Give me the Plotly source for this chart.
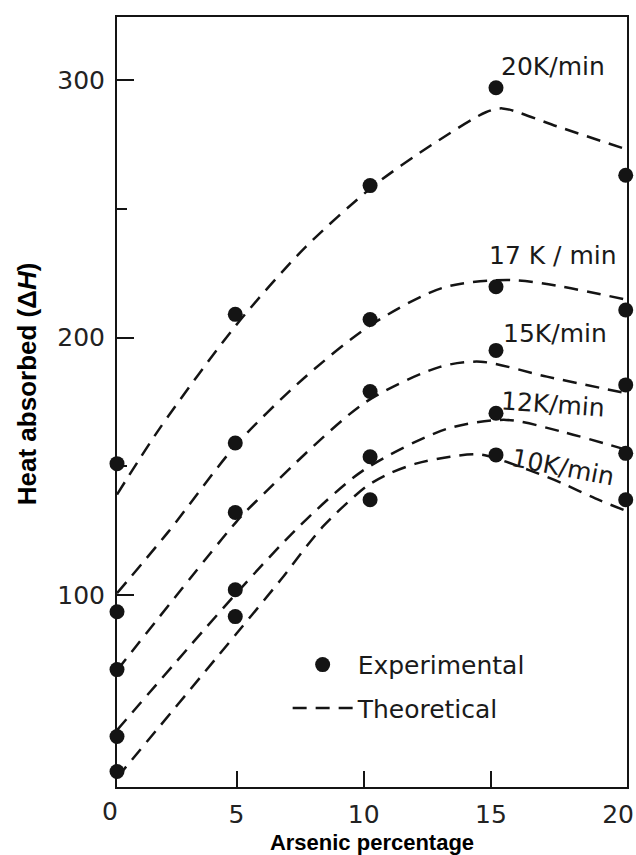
import plotly.graph_objects as go

# ---------------- data ----------------
x_exp = [0.3, 4.95, 10.25, 15.2, 20.3]          # arsenic percentage of the measured samples
exp_20 = [151, 209, 259, 297, 263]
exp_17 = [93.5, 159, 207, 219.7, 210.7]
exp_15 = [71, 132, 179, 195, 181.6]
exp_12 = [45, 102, 153.7, 170.6, 155]
exp_10 = [31.4, 91.6, 137, 154.4, 137]

th20_x = [0.3, 2.0, 5.0, 7.7, 10.4, 12.7, 14.8, 15.45, 17.6, 20.35]
th20_y = [139, 165, 205, 235, 259, 275, 287.5, 289, 282, 273]
th17_x = [0.3, 2.3, 5.0, 7.6, 10.3, 13.1, 15.9, 20.35]
th17_y = [100.7, 124.3, 158.5, 183.8, 205, 219.3, 222.3, 214.6]
th15_x = [0.3, 5.0, 5.75, 10.0, 13.0, 14.6, 17.2, 20.35]
th15_y = [70.7, 128.5, 136.2, 174.4, 188.6, 190.6, 184.8, 178.3]
th12_x = [0.3, 5.0, 7.5, 10.0, 13.26, 15.6, 17.8, 20.35]
th12_y = [47.5, 100.7, 127, 148.5, 164.5, 168, 163.4, 156.3]
th10_x = [0.3, 5.0, 6.73, 8.4, 10.1, 11.04, 12.09, 13.4, 14.6, 16.5, 17.8, 19.1, 20.35]
th10_y = [29, 85, 105.8, 126.6, 142.1, 147.3, 151.1, 153.7, 154.5, 148.5, 143.4, 137.5, 132.5]

series_labels = ["20K/min", "17 K / min", "15K/min", "12K/min", "10K/min"]
x_ticks = [5, 10, 15, 20]
y_ticks = [100, 200, 300]

# label placement (style, not data)
label_pos = [(17.44, 305.4, 0), (17.45, 232.0, 0), (17.5, 201.7, 0),
             (17.45, 173.8, 4), (17.85, 149.5, 11)]

INK = "#141414"
TICK_FONT = dict(family="DejaVu Sans", size=25, color="#222222")
LBL_FONT = dict(family="DejaVu Sans", size=25, color="#1a1a1a")
TITLE_FONT = dict(family="Liberation Sans, Arial", size=22, color="#000000")

fig = go.Figure()

exp_sets = [exp_20, exp_17, exp_15, exp_12, exp_10]
th_sets = [(th20_x, th20_y), (th17_x, th17_y), (th15_x, th15_y),
           (th12_x, th12_y), (th10_x, th10_y)]

for i, (tx, ty) in enumerate(th_sets):
    fig.add_trace(go.Scatter(
        x=tx, y=ty, mode="lines", name="Theoretical",
        legendgroup="theo", legendrank=2, showlegend=(i == 0),
        line=dict(color=INK, width=2.5, dash="14px,9px", shape="spline", smoothing=0.8),
        cliponaxis=False, hoverinfo="skip"))

for i, ys in enumerate(exp_sets):
    fig.add_trace(go.Scatter(
        x=x_exp, y=ys, mode="markers", name="Experimental",
        legendgroup="exp", legendrank=1, showlegend=(i == 0),
        marker=dict(color=INK, size=15, line=dict(width=0)),
        cliponaxis=False))

for text, (lx, ly, ang) in zip(series_labels, label_pos):
    fig.add_annotation(x=lx, y=ly, xref="x", yref="y", text=text, showarrow=False,
                       textangle=ang, font=LBL_FONT, xanchor="center", yanchor="middle")

# "0" label of the x axis (origin lies just left of the axis line)
fig.add_annotation(x=-0.0137, y=0, xref="paper", yref="paper", text="0", showarrow=False,
                   font=TICK_FONT, xanchor="center", yanchor="middle", yshift=-24)

# y-axis title
fig.add_annotation(x=-0.176, y=0.5234, xref="paper", yref="paper",
                   text="<b>Heat absorbed (Δ<i>H</i>)</b>", showarrow=False,
                   textangle=-90, font=dict(family="Liberation Sans, Arial", size=26, color="#000"),
                   xanchor="center", yanchor="middle")

fig.update_xaxes(
    range=[0.3, 20.35], tickvals=x_ticks, ticktext=[str(v) for v in x_ticks],
    ticks="", showgrid=False, zeroline=False, automargin=False,
    showline=True, linecolor=INK, linewidth=2, mirror=True,
    tickfont=TICK_FONT, ticklabelstandoff=4,
    minor=dict(tickvals=[5, 10, 15], ticks="inside", ticklen=16, tickwidth=2, tickcolor=INK),
    title=dict(text="<b>Arsenic percentage</b>", font=TITLE_FONT, standoff=10))

fig.update_yaxes(
    range=[25.4, 324.5], tickvals=y_ticks, ticktext=[str(v) for v in y_ticks],
    ticks="inside", ticklen=17, tickwidth=2, tickcolor=INK,
    showgrid=False, zeroline=False, automargin=False,
    showline=True, linecolor=INK, linewidth=2, mirror=True,
    tickfont=TICK_FONT, ticklabelstandoff=5,
    minor=dict(tickvals=[150, 250], ticks="inside", ticklen=10, tickwidth=2, tickcolor=INK))

fig.update_layout(
    width=636, height=855,
    margin=dict(l=117, r=9, t=17, b=68),
    plot_bgcolor="white", paper_bgcolor="white",
    showlegend=True,
    legend=dict(x=0.3346, y=0.1885, xanchor="left", yanchor="top",
                font=dict(family="DejaVu Sans", size=25, color="#1a1a1a"),
                itemwidth=60, traceorder="grouped", tracegroupgap=8,
                bgcolor="rgba(0,0,0,0)", borderwidth=0),
)

fig.write_html("out.html")
